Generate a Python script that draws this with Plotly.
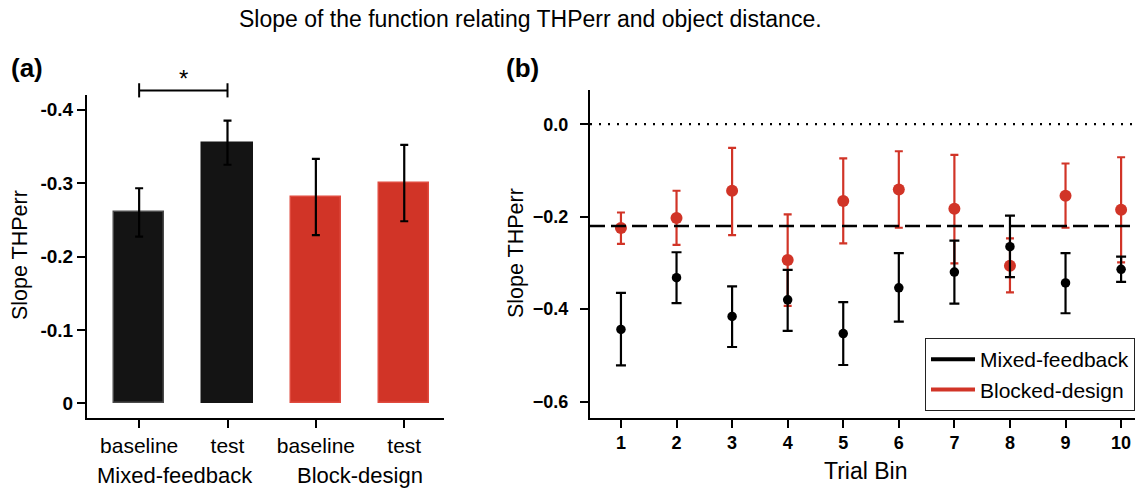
import plotly.graph_objects as go

# ---------------- data ----------------
TITLE = "Slope of the function relating THPerr and object distance."

# Panel (a)
A_GROUPS = ["Mixed-feedback", "Mixed-feedback", "Block-design", "Block-design"]
A_CONDITIONS = ["baseline", "test", "baseline", "test"]
A_SLOPES = [-0.260, -0.355, -0.281, -0.300]
A_ERRORS = [0.033, 0.030, 0.052, 0.052]
A_YTICKS = [0, -0.1, -0.2, -0.3, -0.4]
A_YTICKTEXT = ["0", "-0.1", "-0.2", "-0.3", "-0.4"]
A_SIG_PAIR = (0, 1)

# Panel (b)
B_BINS = [1, 2, 3, 4, 5, 6, 7, 8, 9, 10]
B_MIXED_MEAN = [-0.444, -0.332, -0.416, -0.380, -0.453, -0.354, -0.320, -0.265, -0.3435, -0.314]
B_MIXED_HIGH = [-0.365, -0.277, -0.351, -0.315, -0.385, -0.279, -0.252, -0.198, -0.279, -0.2865]
B_MIXED_LOW = [-0.522, -0.387, -0.482, -0.447, -0.521, -0.427, -0.388, -0.331, -0.409, -0.341]
B_BLOCK_MEAN = [-0.2245, -0.203, -0.144, -0.294, -0.166, -0.1415, -0.183, -0.306, -0.155, -0.185]
B_BLOCK_HIGH = [-0.191, -0.144, -0.051, -0.195, -0.074, -0.0585, -0.0665, -0.247, -0.085, -0.0715]
B_BLOCK_LOW = [-0.259, -0.261, -0.240, -0.393, -0.258, -0.224, -0.301, -0.364, -0.224, -0.299]
B_YTICKS = [0.0, -0.2, -0.4, -0.6]
B_REF_ZERO = 0.0
B_REF_MEAN = -0.22
B_SERIES = ["Mixed-feedback", "Blocked-design"]

# ---------------- style ----------------
BLACK = "#141414"
RED = "#D13427"
FONT = "Liberation Sans, Arial, sans-serif"
W, H = 1135, 488

A_XRANGE = [-0.59, 3.45]
A_YRANGE = [0.02, -0.42]
B_XRANGE = [0.443, 10.25]
B_YRANGE = [-0.635, 0.074]


def frac(v, rng):
    return (v - rng[0]) / (rng[1] - rng[0])


fig = go.Figure()

a_x = list(range(len(A_SLOPES)))
a_colors = [BLACK if g == A_GROUPS[0] else RED for g in A_GROUPS]
a_lines = ["#4a4a4a", BLACK, "#e04a3e", "#e04a3e"]
fig.add_trace(go.Bar(
    x=a_x, y=A_SLOPES, width=0.57,
    marker=dict(color=a_colors, line=dict(color=a_lines, width=1.5)),
    error_y=dict(type="data", array=A_ERRORS, color="black", thickness=2.2, width=4),
    xaxis="x", yaxis="y", showlegend=False,
))


def asym(mean, high, low):
    plus = [h - m for h, m in zip(high, mean)]
    minus = [m - l for m, l in zip(mean, low)]
    return plus, minus


bp, bm = asym(B_BLOCK_MEAN, B_BLOCK_HIGH, B_BLOCK_LOW)
mp, mm = asym(B_MIXED_MEAN, B_MIXED_HIGH, B_MIXED_LOW)

fig.add_trace(go.Scatter(
    x=B_BINS, y=B_BLOCK_MEAN, mode="markers",
    marker=dict(color=RED, size=12),
    error_y=dict(type="data", symmetric=False, array=bp, arrayminus=bm,
                 color=RED, thickness=2.2, width=4),
    xaxis="x2", yaxis="y2", showlegend=False,
))
fig.add_trace(go.Scatter(
    x=B_BINS, y=B_MIXED_MEAN, mode="markers",
    marker=dict(color="black", size=9.5),
    error_y=dict(type="data", symmetric=False, array=mp, arrayminus=mm,
                 color="black", thickness=2.2, width=5),
    xaxis="x2", yaxis="y2", showlegend=False,
))
for name, col in zip(B_SERIES, ["black", RED]):
    fig.add_trace(go.Scatter(
        x=[None], y=[None], mode="lines", name=name,
        line=dict(color=col, width=4), xaxis="x2", yaxis="y2",
    ))

# reference lines in panel (b)
fig.add_shape(type="line", xref="x2 domain", yref="y2", x0=0, x1=1,
              y0=B_REF_ZERO, y1=B_REF_ZERO, line=dict(color="black", width=2.2, dash="2px,7px"))
fig.add_shape(type="line", xref="x2 domain", yref="y2", x0=0, x1=1,
              y0=B_REF_MEAN, y1=B_REF_MEAN, line=dict(color="black", width=2.5, dash="15px,6px"))

# significance bracket in panel (a)
i0, i1 = A_SIG_PAIR
bx0, bx1 = frac(i0, A_XRANGE), frac(i1, A_XRANGE)
by = frac(-0.4263, A_YRANGE)
byt = frac(-0.436, A_YRANGE)
byb = frac(-0.4167, A_YRANGE)
for (x0, y0, x1, y1) in [(bx0, by, bx1, by), (bx0, byt, bx0, byb), (bx1, byt, bx1, byb)]:
    fig.add_shape(type="line", xref="x domain", yref="y domain",
                  x0=x0, y0=y0, x1=x1, y1=y1, line=dict(color="black", width=2))

axis_common = dict(showline=True, linecolor="black", linewidth=2, ticks="outside",
                   ticklen=8, tickwidth=2, tickcolor="black", showgrid=False,
                   zeroline=False, mirror=False)

fig.update_layout(
    width=W, height=H,
    margin=dict(l=0, r=0, t=0, b=0),
    paper_bgcolor="white", plot_bgcolor="white",
    font=dict(family=FONT, color="black"),
    xaxis=dict(domain=[87 / W, 444 / W], range=A_XRANGE, tickvals=a_x,
               ticktext=A_CONDITIONS, tickfont=dict(size=21), anchor="y", **axis_common),
    yaxis=dict(domain=[1 - 418 / H, 1 - 95 / H], range=A_YRANGE, tickvals=A_YTICKS,
               ticktext=A_YTICKTEXT, tickfont=dict(size=19, weight="bold"), anchor="x",
               **axis_common),
    xaxis2=dict(domain=[590 / W, 1.0], range=B_XRANGE, tickvals=B_BINS,
                tickfont=dict(size=18, weight="bold"), anchor="y2", **axis_common),
    yaxis2=dict(domain=[1 - 417.7 / H, 1 - 90 / H], range=B_YRANGE, tickvals=B_YTICKS,
                tickformat=".1f", tickfont=dict(size=18, weight="bold"), anchor="x2",
                ticklabelstandoff=8, **axis_common),
    legend=dict(x=925 / W, y=1 - 338 / H, xanchor="left", yanchor="top",
                font=dict(size=21), bordercolor="#222", borderwidth=1, bgcolor="white",
                itemwidth=44, tracegroupgap=0),
    bargap=0,
)

ann = []
ann.append(dict(text=TITLE, x=530 / W, y=1 - 19 / H, xref="paper", yref="paper",
                showarrow=False, font=dict(size=23), xanchor="center", yanchor="middle"))
ann.append(dict(text="(a)", x=9 / W, y=1 - 68 / H, xref="paper", yref="paper",
                showarrow=False, font=dict(size=26, weight="bold"), xanchor="left", yanchor="middle"))
ann.append(dict(text="(b)", x=504 / W, y=1 - 68 / H, xref="paper", yref="paper",
                showarrow=False, font=dict(size=26, weight="bold"), xanchor="left", yanchor="middle"))
ann.append(dict(text="*", x=(i0 + i1) / 2, y=1 - 78 / H, xref="x", yref="paper",
                showarrow=False, font=dict(size=24), xanchor="center", yanchor="middle"))
# group labels
groups = []
for g in A_GROUPS:
    if g not in groups:
        groups.append(g)
group_shift = [-8, 0]
for g, sh in zip(groups, group_shift):
    idx = [i for i, gg in enumerate(A_GROUPS) if gg == g]
    ann.append(dict(text=g, x=sum(idx) / len(idx), y=1 - 475 / H, xref="x", yref="paper",
                    showarrow=False, font=dict(size=22), xanchor="center", yanchor="middle",
                    xshift=sh))
# axis titles
ann.append(dict(text="Slope THPerr", x=20 / W, y=1 - 255 / H, xref="paper", yref="paper",
                showarrow=False, font=dict(size=21.5), textangle=-90,
                xanchor="center", yanchor="middle"))
ann.append(dict(text="Slope THPerr", x=516 / W, y=1 - 253 / H, xref="paper", yref="paper",
                showarrow=False, font=dict(size=21.5), textangle=-90,
                xanchor="center", yanchor="middle"))
ann.append(dict(text="Trial Bin", x=866 / W, y=1 - 471 / H, xref="paper", yref="paper",
                showarrow=False, font=dict(size=23), xanchor="center", yanchor="middle"))
fig.update_layout(annotations=ann)

fig.write_html("out.html")
